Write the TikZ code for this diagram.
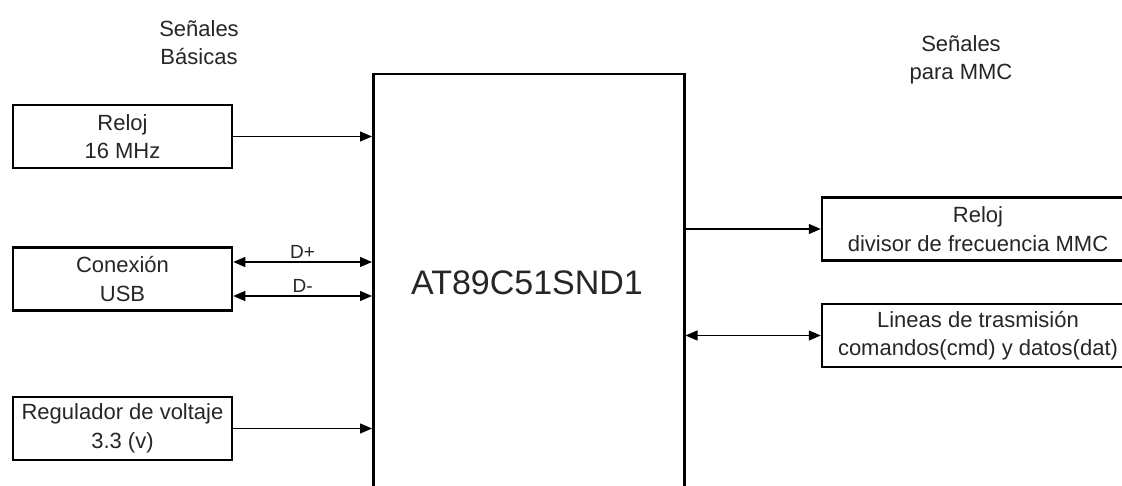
\documentclass[tikz,border=0pt]{standalone}
\usepackage{fontspec}
\setmainfont{Liberation Sans}
\usetikzlibrary{arrows.meta,calc}
\begin{document}
\begin{tikzpicture}[x=1pt,y=-1pt,
  txt/.style={font=\fontsize{22}{28.5}\selectfont, align=center, inner sep=0pt, text=black!85},
  lbox/.style={draw, line width=2.5pt, minimum width=219pt, minimum height=63pt, inner sep=0pt, align=center, font=\fontsize{22}{28.5}\selectfont, text=black!85},
  rbox/.style={lbox, minimum width=312pt},
  tip/.tip={Triangle[length=12pt,width=10pt]},
  arr/.style={line width=1.3pt, -tip},
  biarr/.style={line width=1.3pt, tip-tip}]
\useasboundingbox (0,0) rectangle (1122,486);
\fill[white] (0,0) rectangle (1122,486);
\clip (0,0) rectangle (1122,486);

% titles
\node[txt] (tleft) at (199,42.5) {Señales\\Básicas};
\node[txt] (tright) at (961,60) {Señales\\para MMC};

% main block
\node[draw, line width=2.5pt, minimum width=311pt, minimum height=500pt, anchor=north west, inner sep=0pt] (mcu) at (372,73) {};
\node[font=\fontsize{34}{38}\selectfont, text=black!85, inner sep=0pt] (mcutxt) at (527,283) {AT89C51SND1};

% left blocks
\node[lbox] (reloj) at (122.5,136.5) {Reloj\\16 MHz};
\node[lbox] (usb) at (122.5,279) {Conexión\\USB};
\node[lbox] (reg) at (122.5,428.5) {Regulador de voltaje\\3.3 (v)};

% right blocks
\node[rbox] (rmmc) at (978,229) {Reloj\\divisor de frecuencia MMC};
\node[rbox] (lin) at (978,335.5) {Lineas de trasmisión\\comandos(cmd) y datos(dat)};

% connectors
\draw[arr] (reloj.east) -- (reloj.east -| mcu.west);
\draw[biarr] ($(usb.east)+(0,-17)$) -- ($(usb.east -| mcu.west)+(0,-17)$)
  node[pos=0.5, above=3pt, txt, font=\fontsize{19}{22}\selectfont] (dp) {D+};
\draw[biarr] ($(usb.east)+(0,17)$) -- ($(usb.east -| mcu.west)+(0,17)$)
  node[pos=0.5, above=3pt, txt, font=\fontsize{19}{22}\selectfont] (dm) {D-};
\draw[arr] (reg.east) -- (reg.east -| mcu.west);
\draw[arr] (rmmc.west -| mcu.east) -- (rmmc.west);
\draw[biarr] (lin.west -| mcu.east) -- (lin.west);
\end{tikzpicture}
\end{document}
